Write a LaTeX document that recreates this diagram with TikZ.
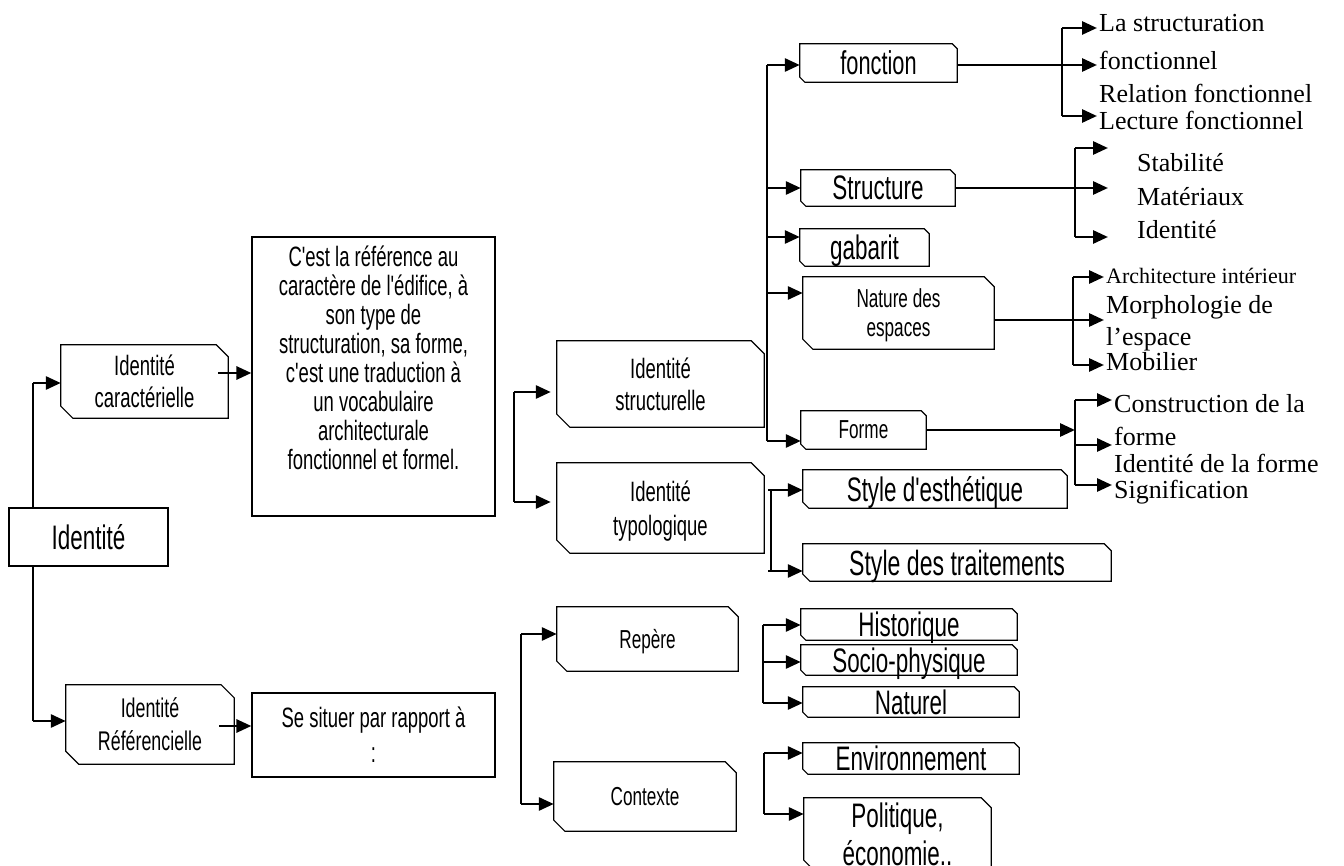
\documentclass[tikz,border=0pt]{standalone}
\usepackage{fontspec}
\newfontfamily\agency{Liberation Sans}[FakeStretch=0.66]
\newfontfamily\tms{Liberation Serif}
\usetikzlibrary{arrows.meta}
\newcommand\fsz[2]{\fontsize{#1}{#2}\selectfont\agency}
\newcommand\tsz[1]{\fontsize{#1}{#1}\selectfont\tms}
\tikzset{
  bx/.style={rectangle, inner sep=0pt, align=center, text depth=0pt},
  plain/.style={draw, line width=1.2pt},
  frame/.style={line width=1.2pt, line join=miter},
  ln/.style={line width=1.3pt},
  arr/.style={line width=2.8pt, -{Triangle[length=15pt,width=13pt]}},
  rt/.style={anchor=base west, inner sep=2pt},
}
\begin{document}
\begin{tikzpicture}[x=1pt,y=-1pt]
\useasboundingbox (0,0) rectangle (1344,866);

% ---------- boxes ----------
\node[bx,plain,minimum width=159,minimum height=58,font={\fsz{34}{36}}] (id) at (88.5,537) {Identité};
\node[bx,minimum width=167,minimum height=73,font={\fsz{28}{32}}] (car) at (144.5,381.5) {Identité\\caractérielle};
\node[bx,plain,minimum width=243,minimum height=279] (def) at (373.5,376.5) {};
\node[bx,font={\fsz{28}{29}}] (dt) at (373.5,358) {C'est la référence au\\caractère de l'édifice, à\\son type de\\structuration, sa forme,\\c'est une traduction à\\un vocabulaire\\architecturale\\fonctionnel et formel.};
\node[bx,minimum width=168,minimum height=79,font={\fsz{27}{33}}] (ref) at (150,724.5) {Identité\\Référencielle};
\node[bx,plain,minimum width=243,minimum height=84,font={\fsz{28}{35}}] (se) at (373.5,735) {Se situer par rapport à\\:};

\node[bx,minimum width=207,minimum height=86,font={\fsz{28}{32}}] (str) at (660.5,384) {Identité\\structurelle};
\node[bx,minimum width=207,minimum height=90,font={\fsz{28}{34}}] (typ) at (660.5,508) {Identité\\typologique};
\node[bx,minimum width=181,minimum height=64,font={\fsz{26}{28}}] (rep) at (647.5,639) {Repère};
\node[bx,minimum width=182,minimum height=69,font={\fsz{26}{28}}] (ctx) at (645,796.5) {Contexte};

\node[bx,minimum width=157,minimum height=38,font={\fsz{33}{34}}] (fonc) at (878.5,63) {fonction};
\node[bx,minimum width=154,minimum height=36,font={\fsz{34}{34}}] (stru) at (878,188) {Structure};
\node[bx,minimum width=129,minimum height=37,font={\fsz{34}{34}}] (gab) at (864.5,247.5) {gabarit};
\node[bx,minimum width=191,minimum height=72,font={\fsz{26}{29}}] (nat) at (898.5,313) {Nature des\\espaces};
\node[bx,minimum width=125,minimum height=38,font={\fsz{26}{28}}] (forme) at (863.5,430) {Forme};
\node[bx,minimum width=264,minimum height=38,font={\fsz{34}{34}}] (esth) at (935,489) {Style d'esthétique};
\node[bx,minimum width=308,minimum height=37,font={\fsz{35}{35}}] (trait) at (957,562.5) {Style des traitements};
\node[bx,minimum width=216,minimum height=31,font={\fsz{34}{34}}] (hist) at (909,624.5) {Historique};
\node[bx,minimum width=216,minimum height=30,font={\fsz{34}{34}}] (socio) at (909,660) {Socio-physique};
\node[bx,minimum width=216,minimum height=30,font={\fsz{34}{34}}] (natu) at (911,702) {Naturel};
\node[bx,minimum width=216,minimum height=31,font={\fsz{34}{34}}] (env) at (911,758.5) {Environnement};
\node[bx,minimum width=187,minimum height=72,font={\fsz{34}{38}}] (pol) at (897.5,834) {Politique,\\économie..};

\foreach \n/\c in {car/12pt,ref/13pt,str/13pt,typ/13pt,rep/10pt,ctx/11pt,fonc/5pt,stru/5pt,gab/5pt,nat/10pt,forme/5pt,esth/6pt,trait/7pt,hist/5pt,socio/5pt,natu/5pt,env/5pt,pol/10pt}{
  \draw[frame] (\n.north west) -- ([xshift=-\c]\n.north east) -- ([yshift=-\c]\n.north east)
    -- (\n.south east) -- ([xshift=\c]\n.south west) -- ([yshift=\c]\n.south west) -- cycle;
}

% ---------- right-hand texts ----------
\node[rt,font={\tsz{26}}] (ft1) at (1097,32) {La structuration};
\node[rt,font={\tsz{26}}] (ft2) at (1097,70) {fonctionnel};
\node[rt,font={\tsz{26}}] (ft3) at (1097,103) {Relation fonctionnel};
\node[rt,font={\tsz{26}}] (ft4) at (1097,130) {Lecture fonctionnel};

\node[rt,font={\tsz{26}}] (st1) at (1135,172) {Stabilité};
\node[rt,font={\tsz{26}}] (st2) at (1135,206) {Matériaux};
\node[rt,font={\tsz{26}}] (st3) at (1135,239) {Identité};

\node[rt,font={\tsz{22}}] (nt1) at (1104,284) {Architecture intérieur};
\node[rt,font={\tsz{26}}] (nt2) at (1104,314) {Morphologie de};
\node[rt,font={\tsz{26}}] (nt3) at (1104,346) {l’espace};
\node[rt,font={\tsz{26}}] (nt4) at (1104,371) {Mobilier};

\node[rt,font={\tsz{26}}] (pt1) at (1112,413) {Construction de la};
\node[rt,font={\tsz{26}}] (pt2) at (1112,445) {forme};
\node[rt,font={\tsz{26}}] (pt3) at (1112,472) {Identité de la forme};
\node[rt,font={\tsz{26}}] (pt4) at (1112,498) {Signification};

% ---------- connectors: left ----------
\coordinate (a1) at (33,383);
\coordinate (a2) at (33,721);
\draw[ln] (id.north -| a1) -- (a1);
\draw[ln] (id.south -| a2) -- (a2);
\draw[arr] (a1) -- (a1 -| car.west);
\draw[arr] (a2) -- (a2 -| ref.west);

\coordinate (b1) at ([xshift=-10pt,yshift=8.5pt]car.east);
\draw[arr] (b1) -- (b1 -| def.west);
\coordinate (b2) at ([xshift=-15pt,yshift=-1.5pt]ref.east);
\draw[arr] (b2) -- (b2 -| se.west);

\coordinate (c1) at (514,392);
\coordinate (c2) at (514,502);
\draw[ln] (c1) -- (c2);
\draw[arr,shorten >=6pt] (c1) -- (c1 -| str.west);
\draw[arr,shorten >=6pt] (c2) -- (c2 -| typ.west);

\coordinate (d1) at (521,634);
\coordinate (d2) at (521,804);
\draw[ln] (d1) -- (d2);
\draw[arr] (d1) -- (d1 -| rep.west);
\draw[arr] (d2) -- (d2 -| ctx.west);

% ---------- connectors: middle ----------
\coordinate (e0) at (767,65);
\coordinate (e1) at (767,188);
\coordinate (e2) at (767,237);
\coordinate (e3) at (767,293);
\coordinate (e4) at (767,441);
\draw[ln] (e0) -- (e4);
\draw[arr] (e0) -- (e0 -| fonc.west);
\draw[arr] (e1) -- (e1 -| stru.west);
\draw[arr] (e2) -- (e2 -| gab.west);
\draw[arr] (e3) -- (e3 -| nat.west);
\draw[arr] (e4) -- (e4 -| forme.west);

\coordinate (g1) at (768,490);
\coordinate (g2) at (771,490);
\coordinate (g3) at (771,571);
\coordinate (g4) at (768,571);
\draw[ln] (g2) -- (g3);
\draw[arr] (g1) -- (g1 -| esth.west);
\draw[arr] (g4) -- (g4 -| trait.west);

\coordinate (h1) at (763,625);
\coordinate (h2) at (763,662);
\coordinate (h3) at (763,703);
\draw[ln] (h1) -- (h3);
\draw[arr] (h1) -- (h1 -| hist.west);
\draw[arr] (h2) -- (h2 -| socio.west);
\draw[arr] (h3) -- (h3 -| natu.west);

\coordinate (k1) at (764,753);
\coordinate (k2) at (764,814);
\draw[ln] (k1) -- (k2);
\draw[arr] (k1) -- (k1 -| env.west);
\draw[arr] (k2) -- (k2 -| pol.west);

% ---------- connectors: right ----------
\coordinate (f1) at (1062,28);
\coordinate (f3) at (1062,116);
\draw[ln] (f1) -- (f3);
\draw[arr] (f1) -- (f1 -| ft1.west);
\coordinate (f2) at ([yshift=-2pt]fonc.east);
\draw[arr] (f2) -- (f2 -| ft2.west);
\draw[arr] (f3) -- (f3 -| ft4.west);

\coordinate (m1) at (1075,148);
\coordinate (m3) at (1075,237);
\coordinate (m1e) at (1108,148);
\coordinate (m3e) at (1108,237);
\draw[ln] (m1) -- (m3);
\draw[arr] (m1) -- (m1e);
\draw[arr] (stru.east) -- (stru.east -| m1e);
\draw[arr] (m3) -- (m3e);

\coordinate (n1) at (1073,277);
\coordinate (n3) at (1073,365);
\draw[ln] (n1) -- (n3);
\draw[arr] (n1) -- (n1 -| nt1.west);
\coordinate (n2) at ([yshift=-7pt]nat.east);
\draw[arr] (n2) -- (n2 -| nt2.west);
\draw[arr] (n3) -- (n3 -| nt4.west);

\coordinate (p1) at (1075,400);
\coordinate (p2) at (1075,445);
\coordinate (p3) at (1075,485);
\draw[ln] (p1) -- (p3);
\draw[arr] (forme.east) -- (forme.east -| p1);
\draw[arr] (p1) -- (p1 -| pt1.west);
\draw[arr] (p2) -- (p2 -| pt2.west);
\draw[arr] (p3) -- (p3 -| pt4.west);
\end{tikzpicture}
\end{document}
